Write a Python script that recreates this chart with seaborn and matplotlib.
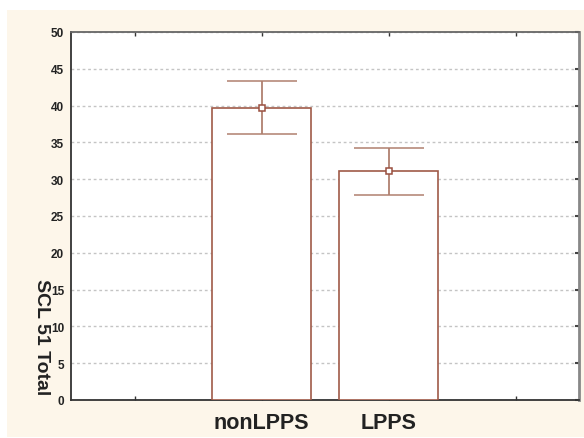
import matplotlib
matplotlib.use("Agg")
import matplotlib.pyplot as plt
from matplotlib.patches import Rectangle
import seaborn as sns
import pandas as pd
import numpy as np

# Data
categories = ["nonLPPS", "LPPS"]
means = [39.7, 31.1]
upper = [43.4, 34.3]
lower = [36.1, 27.8]
y_ticks = [0, 5, 10, 15, 20, 25, 30, 35, 40, 45, 50]
y_label = "SCL 51 Total"

sns.set_style("white")
plt.rcParams["font.family"] = ["Liberation Sans", "DejaVu Sans"]

fig = plt.figure(figsize=(5.84, 4.39), dpi=100)
fig.patch.set_facecolor("white")
bg = Rectangle((7/584, 1/439), 577/584, 427/439, transform=fig.transFigure,
               facecolor="#fdf6ea", edgecolor="none", zorder=-10)
fig.add_artist(bg)
ax = fig.add_axes([71/584, 38/439, 508/584, 368/439])
ax.set_zorder(1)
ax.set_facecolor("white")

order = ["_a", "nonLPPS", "LPPS", "_b"]
df = pd.DataFrame({"group": categories, "value": means})
edge = "#a05a48"
sns.barplot(data=df, x="group", y="value", order=order, ax=ax, width=0.78,
            color="white", edgecolor=edge, linewidth=1.2, errorbar=None, zorder=3)

xpos = [order.index(c) for c in categories]
m = np.array(means)
yerr = [m - np.array(lower), np.array(upper) - m]
ax.errorbar(xpos, m, yerr=yerr, fmt="s", color="#b0806f", ecolor="#b0806f",
            elinewidth=1.3, capsize=25, capthick=1.3, markersize=5,
            markerfacecolor="white", markeredgecolor="#9a5040", markeredgewidth=1.1, zorder=4)

ax.set_xlim(-0.5, 3.5)
ax.set_ylim(0, 50)
ax.set_yticks(y_ticks)
ax.set_yticklabels([str(t) for t in y_ticks], fontsize=8.5, fontweight="bold", color="#222222")
ax.set_xticks(range(len(order)))
ax.set_xticklabels(["" if c.startswith("_") else c for c in order],
                   fontsize=15.5, fontweight="bold", color="#222222")
ax.set_xlabel("")
ax.set_ylabel(y_label, fontsize=14, fontweight="bold", color="#222222",
              rotation=-90, ha="center", va="center", rotation_mode="anchor")
ax.yaxis.set_label_coords(-0.059, 0.174)

ax.grid(axis="y", color="#c4c4c4", linestyle=(0, (2, 2)), linewidth=1.0, zorder=0)
ax.set_axisbelow(True)

ax.tick_params(axis="y", left=False, right=True, direction="in", length=3, width=1.5,
               color="#444444", labelleft=True, pad=5)
ax.tick_params(axis="x", top=True, bottom=True, direction="in", length=3, width=1,
               color="#333333", pad=9)

for s in ["left", "bottom"]:
    ax.spines[s].set_color("#333333")
    ax.spines[s].set_linewidth(1.3)
ax.spines["top"].set_color("#666666")
ax.spines["top"].set_linewidth(1.3)
ax.spines["right"].set_color("#888888")
ax.spines["right"].set_linewidth(2)
for s in ax.spines.values():
    s.set_visible(True)

fig.savefig("out.png", dpi=100)
